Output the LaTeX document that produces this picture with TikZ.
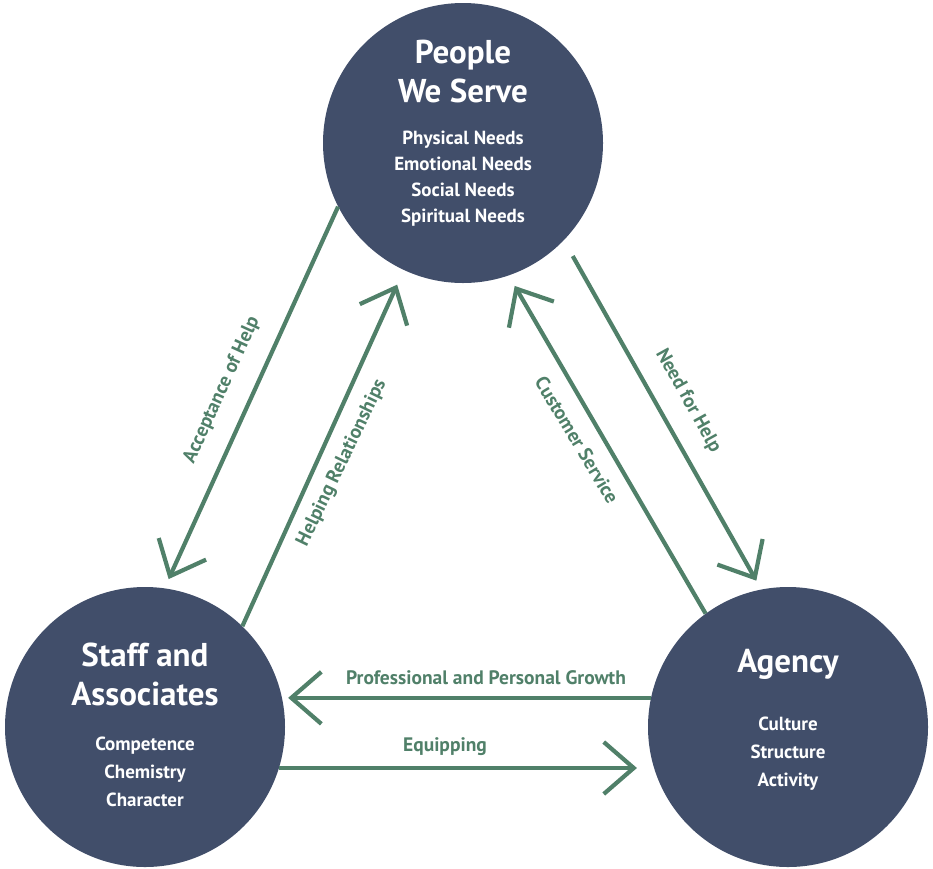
\documentclass[tikz,border=0pt]{standalone}
\usepackage{fontspec}
\setmainfont{PT Sans}
\usetikzlibrary{arrows.meta}
\definecolor{navy}{RGB}{65,78,106}
\definecolor{sage}{RGB}{80,128,105}

\begin{document}
\begin{tikzpicture}[x=1pt,y=-1pt,
        circ/.style={circle, fill=navy, minimum size=280pt, inner sep=0pt},
        ttl/.style={text=white, font=\fontsize{33}{39}\selectfont\bfseries, align=center},
        sub/.style={text=white, font=\fontsize{19}{#1}\selectfont\bfseries, align=center},
        sub/.default=28,
        lbl/.style={text=sage, font=\fontsize{19.5}{23}\selectfont\bfseries},
        flow/.style={draw=sage, line width=4.2pt, -{Straight Barb[length=30pt,width=52pt,sharp]}}]
        \useasboundingbox (0,0) rectangle (933,868);

        % the three circles
        \node[circ] (people) at (463,143) {};
        \node[circ] (staff) at (145,727) {};
        \node[circ] (agency) at (788,727) {};

        \node[ttl] (peopleT) at (463,72) {People\\We Serve};
        \node[sub=26] (peopleS) at (463,179) {Physical Needs\\Emotional Needs\\Social Needs\\Spiritual Needs};
        \node[ttl] (staffT) at (145,674) {Staff and\\Associates};
        \node[sub] (staffS) at (145,772) {Competence\\Chemistry\\Character};
        \node[ttl] (agencyT) at (788,664) {Agency};
        \node[sub] (agencyS) at (788,754) {Culture\\Structure\\Activity};

        % arrows between them
        \draw[flow, shorten >=10pt] (people.207) -- (staff.82);
        \draw[flow, shorten >=16pt] (staff.46) -- (people.245);
        \draw[flow, shorten >=12pt] (agency.126) -- (people.289);
        \draw[flow, shorten <=18pt, shorten >=10pt] (people.-44) -- (agency.101);
        \draw[flow, shorten >=6pt] (agency.168) -- (staff.12);
        \draw[flow, shorten >=17pt] (staff.-17) -- (agency.197);

        \node[lbl, rotate=65.5] (accept) at (222,390) {Acceptance of Help};
        \node[lbl, rotate=64.2] (helping) at (342,463) {Helping Relationships};
        \node[lbl, rotate=-59] (customer) at (577,440) {Customer Service};
        \node[lbl, rotate=-61] (need) at (688,401) {Need for Help};
        \node[lbl] (growth) at (486,678) {Professional and Personal Growth};
        \node[lbl] (equip) at (445,747) {Equipping};
    \end{tikzpicture}
\end{document}
